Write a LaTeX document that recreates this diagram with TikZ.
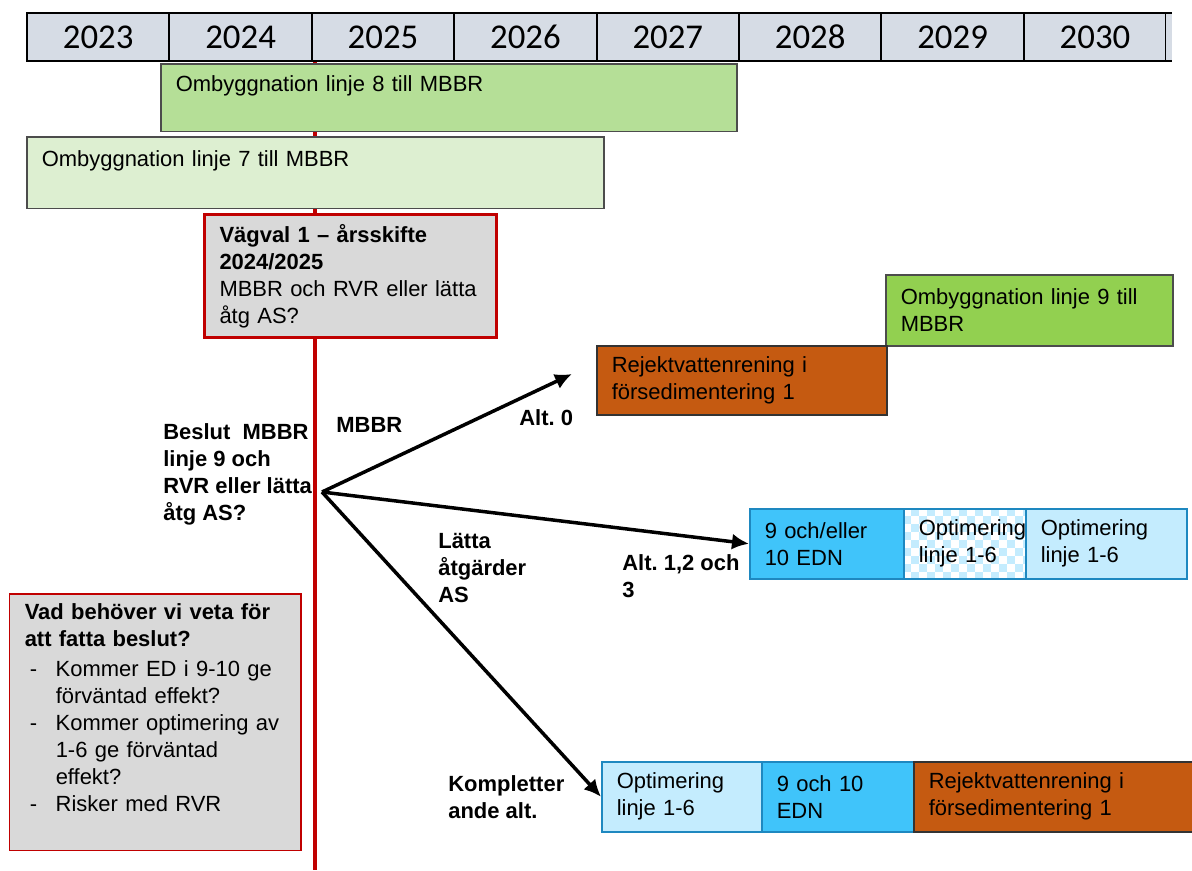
\documentclass[tikz,border=0pt]{standalone}
\usepackage{fontspec}
\setmainfont{Liberation Sans}
\newfontfamily\yearfont{Carlito}
\usetikzlibrary{arrows.meta}
\hyphenpenalty=10000
\frenchspacing

\definecolor{rodlinje}{HTML}{C00000}
\definecolor{arsgra}{HTML}{D6DCE5}
\definecolor{gron8}{HTML}{B5DF97}
\definecolor{gron7}{HTML}{DDEFD1}
\definecolor{gron9}{HTML}{92D050}
\definecolor{rejekt}{HTML}{C55A11}
\definecolor{ljusgra}{HTML}{D9D9D9}
\definecolor{ednbla}{HTML}{40C4FA}
\definecolor{optbla}{HTML}{C4ECFE}
\definecolor{blakant}{HTML}{1E88C0}

\newcommand{\streck}{\makebox[0.62cm][l]{\hspace{0.1cm}-}}
\newcommand{\indrag}{\hspace*{0.62cm}}

\tikzset{
	ar/.style={draw=black, line width=0.4mm, fill=arsgra, minimum width=2.848cm, minimum height=0.96cm, inner sep=0pt, text height=12.6pt, text depth=0pt, font=\yearfont\fontsize{19.8}{23}\selectfont},
	box/.style={draw=black!70, line width=0.3mm, anchor=north west, align=left, inner xsep=0.3cm, inner ysep=0pt, font=\frenchspacing\fontsize{12.5}{15.3}\selectfont},
	blabox/.style={box, draw=blakant},
	etikett/.style={anchor=west, align=left, inner sep=0pt, font=\frenchspacing\bfseries\fontsize{12.5}{15.5}\selectfont},
	pil/.style={line width=0.7mm, -{Latex[length=3.4mm,width=3.2mm]}},
}

\begin{document}
\begin{tikzpicture}
				\useasboundingbox (0,0) rectangle (23.84,-17.4);
				
				\draw[line width = 0.7mm, rodlinje] (6.3,-1.22) -- (6.3,-17.4);
				
				\node[ar] (y2023) at (1.964,-0.74) {2023};
				\node[ar] (y2024) at (4.812,-0.74) {2024};
				\node[ar] (y2025) at (7.66,-0.74) {2025};
				\node[ar] (y2026) at (10.508,-0.74) {2026};
				\node[ar] (y2027) at (13.356,-0.74) {2027};
				\node[ar] (y2028) at (16.204,-0.74) {2028};
				\node[ar] (y2029) at (19.052,-0.74) {2029};
				\node[ar] (y2030) at (21.9,-0.74) {2030};
				\fill[arsgra] (23.324,-0.26) rectangle (23.44,-1.22);
				\draw[line width = 0.4mm] (23.324,-0.26) -- (23.44,-0.26);
				\draw[line width = 0.4mm] (23.324,-1.22) -- (23.44,-1.22);
				
				\node[box, fill=gron8, text width=10.92cm, inner ysep=0.24cm, text depth=0.56cm] (linje8) at (3.2,-1.26) {Ombyggnation linje 8 till MBBR};
				\node[box, fill=gron7, text width=10.94cm, inner ysep=0.28cm, text depth=0.56cm] (linje7) at (0.52,-2.72) {Ombyggnation linje 7 till MBBR};
				
				\node[box, draw=rodlinje, line width=0.6mm, fill=ljusgra, text width=5.24cm, minimum height=2.46cm] (vagval) at (4.06,-4.26) {\textbf{Vägval 1 – årsskifte}\\\textbf{2024/2025}\\MBBR och RVR eller lätta\\åtg AS?};
				
				\node[box, fill=gron9, text width=5.14cm, minimum height=1.42cm] (linje9) at (17.7,-5.48) {Ombyggnation linje 9 till\\MBBR};
				\node[box, draw=black!80, fill=rejekt, text width=5.2cm, minimum height=1.38cm] (rejekt1) at (11.92,-6.9) {Rejektvattenrening i\\försedimentering 1};
				
				\node[blabox, fill=ednbla, text width=2.48cm, minimum height=1.4cm] (edn1) at (14.98,-10.16) {9 och/eller\\10 EDN};
				\begin{scope}
					\clip (18.06,-10.16) rectangle (20.5,-11.56);
					\fill[optbla] (18.06,-10.16) rectangle (20.5,-11.56);
					\foreach \i in {0,...,15}
						\foreach \j in {0,...,4}
							\fill[white] ({18.06+\i*0.16},{-10.16-(2*\j+mod(\i,2))*0.16}) rectangle ++(0.16,-0.16);
				\end{scope}
				\node[blabox, text width=1.84cm, minimum height=1.4cm] (rutor) at (18.06,-10.16) {Optimering\\linje 1-6};
				\node[blabox, fill=optbla, text width=2.62cm, minimum height=1.4cm] (opt1) at (20.5,-10.16) {Optimering\\linje 1-6};
				
				\node[blabox, fill=optbla, text width=2.6cm, minimum height=1.4cm] (opt2) at (12.02,-15.22) {Optimering\\linje 1-6};
				\node[blabox, fill=ednbla, text width=2.44cm, minimum height=1.4cm] (edn2) at (15.22,-15.22) {9 och 10\\EDN};
				\node[box, draw=black!80, fill=rejekt, text width=5.2cm, minimum height=1.4cm] (rejekt2) at (18.26,-15.22) {Rejektvattenrening i\\försedimentering 1};
				
				\node[box, draw=rodlinje, fill=ljusgra, text width=5.22cm, inner ysep=0.2cm, text depth=4.42cm] (fraga) at (0.18,-11.86) {\textbf{Vad behöver vi veta för}\\\textbf{att fatta beslut?}\\[2pt]
					\streck Kommer ED i 9-10 ge\\
					\indrag förväntad effekt?\\
					\streck Kommer optimering av\\
					\indrag 1-6 ge förväntad\\
					\indrag effekt?\\
					\streck Risker med RVR};
				
				\node[etikett] (mbbrtext) at (6.72,-8.5) {MBBR};
				\node[etikett] (alt0text) at (10.38,-8.36) {Alt. 0};
				\node[etikett] (beslut) at (3.26,-9.49) {Beslut~ MBBR\\linje 9 och\\RVR eller lätta\\åtg AS?};
				\node[etikett] (latta) at (8.76,-11.36) {Lätta\\åtgärder\\AS};
				\node[etikett] (alt123text) at (12.44,-11.53) {Alt. 1,2 och\\3};
				\node[etikett] (komplett) at (8.96,-15.94) {Kompletter\\ande alt.};
				
				\coordinate (gren) at (6.44,-9.84);
				\coordinate (alt0) at (11.44,-7.48);
				\draw[pil] (gren) -- (alt0);
				\draw[pil] (gren) -- (edn1.west);
				\draw[pil] (gren) -- (opt2.west);
\end{tikzpicture}
\end{document}
